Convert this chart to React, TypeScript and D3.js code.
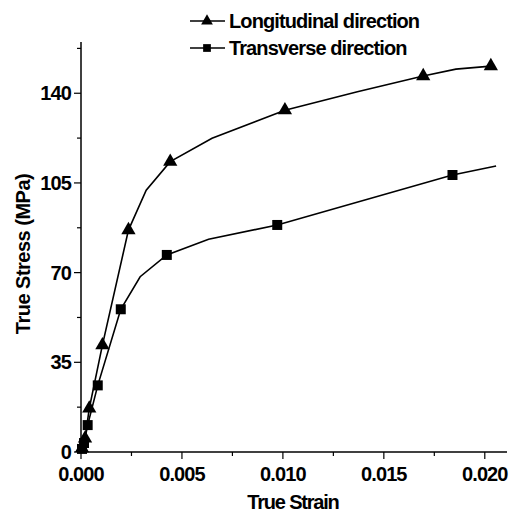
import React from 'react';
import * as d3 from 'd3';

// values
const longStrain = [0.00005, 0.0002, 0.00041, 0.00106, 0.00235, 0.00323, 0.00442, 0.00649, 0.0101, 0.01369, 0.01695, 0.01857, 0.0203];
const longStress = [1.5, 5.3, 17, 41.7, 86.6, 102.2, 113.3, 122.4, 133.4, 140.6, 146.7, 149.4, 150.6];
const longMarked = [1, 1, 1, 1, 1, 0, 1, 0, 1, 0, 1, 0, 1];

const transStrain = [0.00005, 0.00015, 0.00033, 0.00083, 0.00197, 0.00293, 0.00425, 0.00632, 0.00972, 0.0184, 0.02056];
const transStress = [1.2, 3.5, 10.5, 26, 55.7, 68.4, 76.9, 83, 88.6, 108.1, 111.6];
const transMarked = [1, 1, 1, 1, 1, 0, 1, 0, 1, 1, 0];

const xTicks = [0, 0.005, 0.01, 0.015, 0.02];
const xMinor = [0.0025, 0.0075, 0.0125, 0.0175];
const yTicks = [0, 35, 70, 105, 140];
const yMinor = [17.5, 52.5, 87.5, 122.5, 157.5];

const seriesNames = ['Longitudinal direction', 'Transverse direction'];

const W = 509;
const H = 515;
const font = '"Liberation Sans", Arial, sans-serif';

const App = () => {
    const x = d3.scaleLinear().domain([0, 0.0211]).range([81, 507]);
    const y = d3.scaleLinear().domain([0, 160]).range([452, 42]);

    const line = d3.line<number[]>()
        .x(d => x(d[0]))
        .y(d => y(d[1]));

    const tri = d3.symbol(d3.symbolTriangle, 88)();
    const sq = d3.symbol(d3.symbolSquare, 100)();
    const triSmall = d3.symbol(d3.symbolTriangle, 60)();
    const sqSmall = d3.symbol(d3.symbolSquare, 60)();

    const longPts = longStrain.map((s, i) => [s, longStress[i]]);
    const transPts = transStrain.map((s, i) => [s, transStress[i]]);

    return (
        <svg width={W} height={H} style={{ position: 'absolute', left: 0, top: 0, background: '#fff' }}
            fontFamily={font} fontWeight="bold">
            {/* axes */}
            <line x1={x.range()[0]} x2={x.range()[1]} y1={y(0)} y2={y(0)} stroke="#000" strokeWidth={1.5} />
            <line x1={x(0)} x2={x(0)} y1={y.range()[0]} y2={y.range()[1]} stroke="#000" strokeWidth={1.5} />
            {xTicks.map(t => (
                <g key={'x' + t}>
                    <line x1={x(t)} x2={x(t)} y1={y(0)} y2={y(0) + 7} stroke="#000" strokeWidth={1.2} />
                    <text x={x(t)} y={481} textAnchor="middle" fontSize={20} letterSpacing={-0.9}>{t.toFixed(3)}</text>
                </g>
            ))}
            {xMinor.map(t => (
                <line key={'xm' + t} x1={x(t)} x2={x(t)} y1={y(0)} y2={y(0) + 4} stroke="#000" strokeWidth={1.2} />
            ))}
            {yTicks.map(t => (
                <g key={'y' + t}>
                    <line x1={x(0) - 7} x2={x(0)} y1={y(t)} y2={y(t)} stroke="#000" strokeWidth={1.2} />
                    <text x={71} y={y(t) + 7} textAnchor="end" fontSize={20} letterSpacing={-0.9}>{t}</text>
                </g>
            ))}
            {yMinor.map(t => (
                <line key={'ym' + t} x1={x(0) - 4} x2={x(0)} y1={y(t)} y2={y(t)} stroke="#000" strokeWidth={1.2} />
            ))}
            <text x={293} y={509} textAnchor="middle" fontSize={20} letterSpacing={-1.2}>True Strain</text>
            <text transform="translate(30,254) rotate(-90)" textAnchor="middle" fontSize={20} letterSpacing={-0.5}>True Stress (MPa)</text>

            {/* series */}
            <path d={line(longPts) || ''} fill="none" stroke="#000" strokeWidth={1.6} />
            <path d={line(transPts) || ''} fill="none" stroke="#000" strokeWidth={1.6} />
            {longPts.map((p, i) => longMarked[i] ? (
                <path key={'l' + i} d={tri || ''} transform={`translate(${x(p[0])},${y(p[1])})`} fill="#000" />
            ) : null)}
            {transPts.map((p, i) => transMarked[i] ? (
                <path key={'t' + i} d={sq || ''} transform={`translate(${x(p[0])},${y(p[1])})`} fill="#000" />
            ) : null)}

            {/* legend */}
            {seriesNames.map((name, i) => (
                <g key={name} transform={`translate(0,${21 + i * 27})`}>
                    <line x1={190} x2={225} y1={0} y2={0} stroke="#000" strokeWidth={1.6} />
                    <path d={(i === 0 ? triSmall : sqSmall) || ''} transform="translate(207,0)" fill="#000" />
                    <text x={229} y={7} fontSize={20} letterSpacing={-0.9}>{name}</text>
                </g>
            ))}
        </svg>
    );
};

export default App;
